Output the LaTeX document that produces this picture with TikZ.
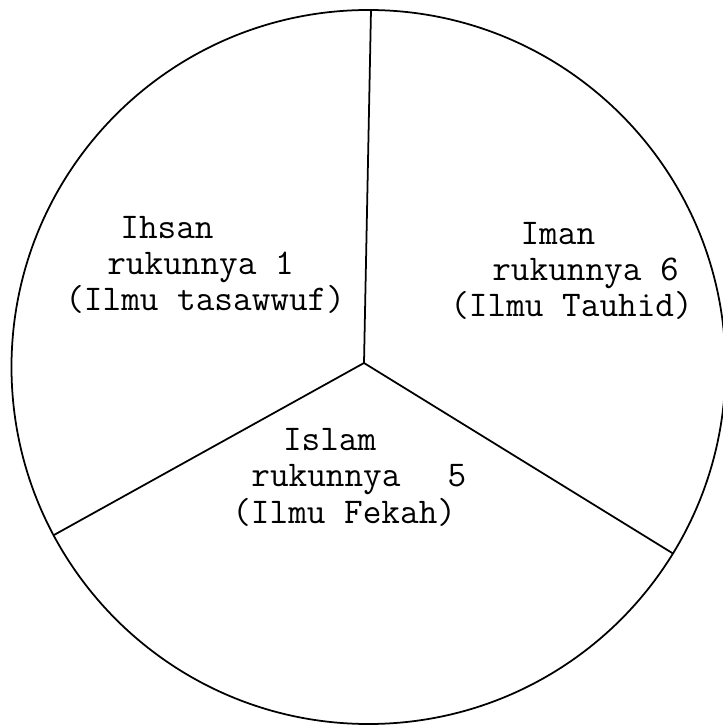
\documentclass[tikz,border=0pt]{standalone}
\usepackage{fontspec}
\tikzset{
  rukun/.style={font=\ttfamily\fontsize{20.6pt}{20.5pt}\selectfont, align=left, anchor=base west, inner sep=0pt},
  sekat/.style={line width=1pt}
}
\begin{document}
\begin{tikzpicture}[line join=round]
  \useasboundingbox (-7.28,-7.24) rectangle (7.16,7.26);
  % the outer circle
  \coordinate (pusat) at (0.09,-0.08);
  \draw[sekat] (pusat) circle (7.14);
  % the three spokes from the hub
  \coordinate (hub) at (0,0);
  \coordinate (atas) at (0.14,7.06);
  \coordinate (kiri) at (-6.20,-3.44);
  \coordinate (kanan) at (6.18,-3.81);
  \draw[sekat] (hub) -- (atas);
  \draw[sekat] (hub) -- (kiri);
  \draw[sekat] (hub) -- (kanan);
  % the three parts (anchored at the last line)
  \node[rukun] (ihsan) at (-5.98,1.04) {\hspace*{1.52em}Ihsan\\\hspace*{1.16em}rukunnya 1\\(Ilmu tasawwuf)};
  \node[rukun] (iman) at (1.72,0.92) {\hspace*{1.94em}Iman\\\hspace*{1.16em}rukunnya 6\\(Ilmu Tauhid)};
  \node[rukun] (islam) at (-2.64,-3.20) {\hspace*{1.40em}Islam\\\hspace*{0.525em}rukunnya\hspace*{1.3em}5\\(Ilmu Fekah)};
\end{tikzpicture}
\end{document}
